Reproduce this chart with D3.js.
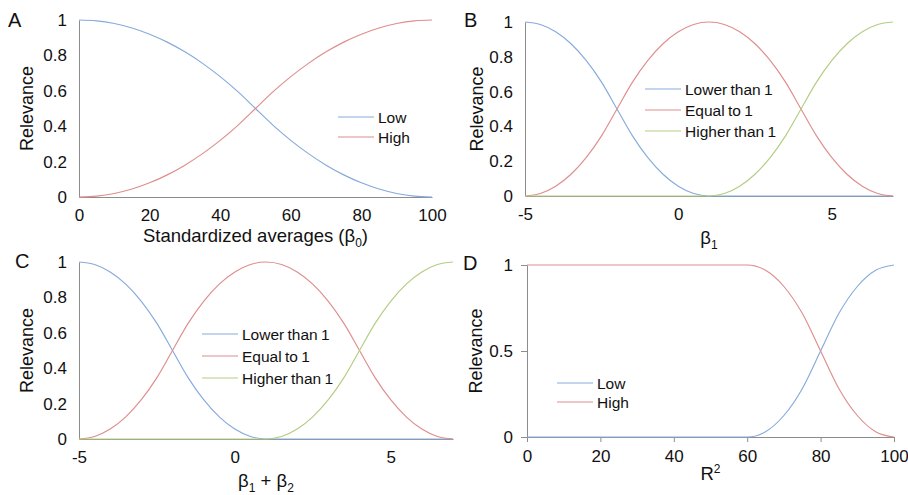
<!DOCTYPE html>
<html>
<head>
<meta charset="utf-8">
<script src="https://cdn.jsdelivr.net/npm/d3@7"></script>
<style>
  body { margin: 0; background: #fff; }
  svg { display: block; font-family: "Liberation Sans", Arial, sans-serif; }
  .domain { stroke: #8c8c8c; }
  .tick line { stroke: #8c8c8c; }
  .tick text { fill: #111; }
</style>
</head>
<body>
<div id="chart"></div>
<script>
// data

// panel A: standardized averages
const aX = [0, 5, 10, 15, 20, 25, 30, 35, 40, 45, 50, 55, 60, 65, 70, 75, 80, 85, 90, 95, 100];
const aLow = [1, 0.995, 0.98, 0.955, 0.92, 0.875, 0.82, 0.755, 0.68, 0.595, 0.5, 0.405, 0.32, 0.245, 0.18, 0.125, 0.08, 0.045, 0.02, 0.005, 0];
const aHigh = [0, 0.005, 0.02, 0.045, 0.08, 0.125, 0.18, 0.245, 0.32, 0.405, 0.5, 0.595, 0.68, 0.755, 0.82, 0.875, 0.92, 0.955, 0.98, 0.995, 1];

// panels B and C: beta
const bX = [-5, -4.5, -4, -3.5, -3, -2.5, -2, -1.5, -1, -0.5, 0, 0.5, 1, 1.5, 2, 2.5, 3, 3.5, 4, 4.5, 5, 5.5, 6, 6.5, 7];
const bLower = [1, 0.986, 0.944, 0.875, 0.778, 0.653, 0.5, 0.347, 0.222, 0.125, 0.056, 0.014, 0, 0, 0, 0, 0, 0, 0, 0, 0, 0, 0, 0, 0];
const bEqual = [0, 0.014, 0.056, 0.125, 0.222, 0.347, 0.5, 0.653, 0.778, 0.875, 0.944, 0.986, 1, 0.986, 0.944, 0.875, 0.778, 0.653, 0.5, 0.347, 0.222, 0.125, 0.056, 0.014, 0];
const bHigher = [0, 0, 0, 0, 0, 0, 0, 0, 0, 0, 0, 0, 0, 0.014, 0.056, 0.125, 0.222, 0.347, 0.5, 0.653, 0.778, 0.875, 0.944, 0.986, 1];

// panel D: R2
const dX = [0, 5, 10, 15, 20, 25, 30, 35, 40, 45, 50, 55, 60, 65, 70, 75, 80, 85, 90, 95, 100];
const dLow = [0, 0, 0, 0, 0, 0, 0, 0, 0, 0, 0, 0, 0, 0.031, 0.125, 0.281, 0.5, 0.719, 0.875, 0.969, 1];
const dHigh = [1, 1, 1, 1, 1, 1, 1, 1, 1, 1, 1, 1, 1, 0.969, 0.875, 0.719, 0.5, 0.281, 0.125, 0.031, 0];

// tick labels
const ticksPct = [0, 20, 40, 60, 80, 100];
const ticksBeta = [-5, 0, 5];
const ticksRel = [0, 0.2, 0.4, 0.6, 0.8, 1];
const ticksRelD = [0, 0.5, 1];

const blue = "#86abdb";
const red = "#df8d8d";
const green = "#b3cd82";

const width = 908;
const height = 495;

const svg = d3.select("#chart")
    .append("svg")
    .attr("width", width)
    .attr("height", height);

svg.append("rect").attr("width", width).attr("height", height).attr("fill", "#fff");

// one panel
function drawPanel(p) {
    const g = svg.append("g");

    const x = d3.scaleLinear().domain(p.xDomain).range(p.xRange);
    const y = d3.scaleLinear().domain([0, 1]).range(p.yRange);

    const xAxis = d3.axisBottom(x).tickValues(p.xTicks).tickSizeOuter(0)
        .tickSize(p.ticks ? 5 : 0).tickPadding(p.ticks ? 8 : 12)
        .tickFormat(d => String(d));  // plain hyphen for -5
    const yAxis = d3.axisLeft(y).tickValues(p.yTicks).tickSizeOuter(0)
        .tickSize(p.ticks ? 6 : 0).tickPadding(p.ticks ? 8 : 12)
        .tickFormat(d => String(d));

    g.append("g")
        .attr("transform", `translate(0,${p.yRange[0]})`)
        .call(xAxis)
        .call(s => s.selectAll("text").attr("font-size", 17).attr("font-family", null));

    g.append("g")
        .attr("transform", `translate(${p.xRange[0]},0)`)
        .call(yAxis)
        .call(s => s.selectAll("text").attr("font-size", 17).attr("font-family", null));

    const line = d3.line()
        .x(d => x(d[0]))
        .y(d => y(d[1]))
        .curve(d3.curveMonotoneX);

    p.series.forEach(s => {
        g.append("path")
            .datum(p.xs.map((v, i) => [v, s.values[i]]))
            .attr("fill", "none")
            .attr("stroke", s.color)
            .attr("stroke-width", 1.15)
            .attr("d", line);
    });

    // legend
    p.series.forEach((s, i) => {
        const ly = p.legend.y + i * p.legend.gap;
        g.append("line")
            .attr("x1", p.legend.x).attr("x2", p.legend.x + 36)
            .attr("y1", ly).attr("y2", ly)
            .attr("stroke", s.color).attr("stroke-width", 1.15);
        g.append("text")
            .attr("x", p.legend.x + 40).attr("y", ly + 5.5)
            .attr("font-size", 15.5)
            .attr("word-spacing", -1)
            .attr("fill", "#111")
            .text(s.name);
    });

    // y title
    g.append("text")
        .attr("transform", `translate(${p.yTitleX},${(p.yRange[0] + p.yRange[1]) / 2}) rotate(-90)`)
        .attr("text-anchor", "middle")
        .attr("font-size", 18)
        .attr("fill", "#111")
        .text("Relevance");

    // x title with sub/superscripts
    const t = g.append("text")
        .attr("x", (p.xRange[0] + p.xRange[1]) / 2)
        .attr("y", p.xTitleY)
        .attr("text-anchor", "middle")
        .attr("font-size", 18.5)
        .attr("fill", "#111");
    p.xTitle.forEach(part => {
        const ts = t.append("tspan").text(part.t);
        if (part.sub) ts.attr("font-size", 12).attr("dy", 5);
        if (part.sup) ts.attr("font-size", 12).attr("dy", -7);
        if (part.back) ts.attr("dy", part.back);
    });

    // panel letter
    g.append("text")
        .attr("x", p.letterX).attr("y", p.letterY)
        .attr("font-size", 20)
        .attr("fill", "#111")
        .text(p.letter);
}

const panels = [
    {
        letter: "A", letterX: 8, letterY: 27,
        xDomain: [0, 100], xRange: [79, 432], yRange: [197, 20],
        xTicks: ticksPct, yTicks: ticksRel, ticks: false,
        xs: aX,
        series: [
            { name: "Low", values: aLow, color: blue },
            { name: "High", values: aHigh, color: red }
        ],
        legend: { x: 338, y: 117, gap: 20 },
        yTitleX: 33, xTitleY: 242,
        xTitle: [{ t: "Standardized averages (β" }, { t: "0", sub: true }, { t: ")", back: -5 }]
    },
    {
        letter: "B", letterX: 464, letterY: 27,
        xDomain: [-5, 7], xRange: [525, 893], yRange: [196, 22],
        xTicks: ticksBeta, yTicks: ticksRel, ticks: false,
        xs: bX,
        series: [
            { name: "Lower than 1", values: bLower, color: blue },
            { name: "Equal to 1", values: bEqual, color: red },
            { name: "Higher than 1", values: bHigher, color: green }
        ],
        legend: { x: 645, y: 89, gap: 21 },
        yTitleX: 483, xTitleY: 244,
        xTitle: [{ t: "β" }, { t: "1", sub: true }]
    },
    {
        letter: "C", letterX: 15, letterY: 268,
        xDomain: [-5, 7], xRange: [79, 453], yRange: [439, 262],
        xTicks: ticksBeta, yTicks: ticksRel, ticks: false,
        xs: bX,
        series: [
            { name: "Lower than 1", values: bLower, color: blue },
            { name: "Equal to 1", values: bEqual, color: red },
            { name: "Higher than 1", values: bHigher, color: green }
        ],
        legend: { x: 202, y: 334, gap: 22 },
        yTitleX: 33, xTitleY: 487,
        xTitle: [{ t: "β" }, { t: "1", sub: true }, { t: " + β", back: -5 }, { t: "2", sub: true }]
    },
    {
        letter: "D", letterX: 463, letterY: 270,
        xDomain: [0, 100], xRange: [527, 894], yRange: [437, 265],
        xTicks: ticksPct, yTicks: ticksRelD, ticks: true,
        xs: dX,
        series: [
            { name: "Low", values: dLow, color: blue },
            { name: "High", values: dHigh, color: red }
        ],
        legend: { x: 557, y: 383, gap: 19 },
        yTitleX: 482, xTitleY: 480,
        xTitle: [{ t: "R" }, { t: "2", sup: true }]
    }
];

panels.forEach(drawPanel);
</script>
</body>
</html>
